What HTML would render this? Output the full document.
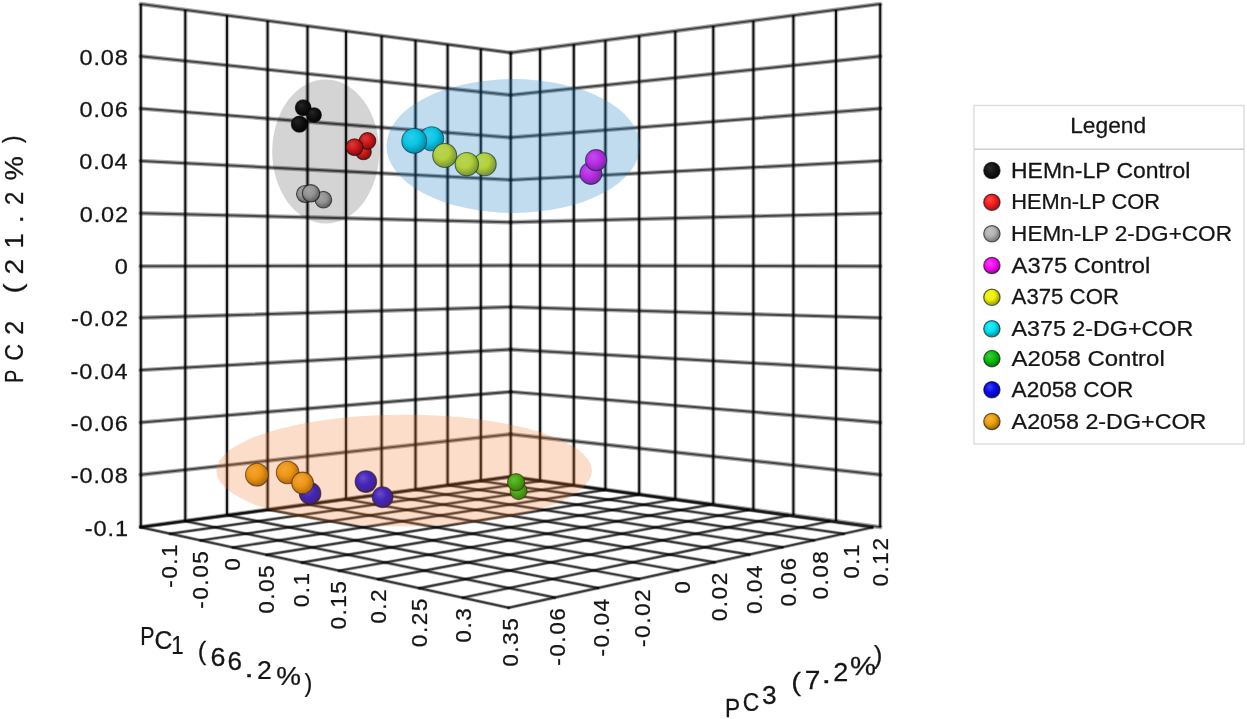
<!DOCTYPE html>
<html><head><meta charset="utf-8"><style>
html,body{margin:0;padding:0;background:#fff;}
svg{display:block;will-change:transform;}
text{font-family:"Liberation Sans",sans-serif;fill:#151515;stroke:#151515;stroke-width:0.25px;}
</style></head><body>
<svg width="1247" height="719" viewBox="0 0 1247 719">
<defs><radialGradient id="sk" cx="0.42" cy="0.4" r="0.62" fx="0.36" fy="0.32"><stop offset="0" stop-color="#2d2d2d"/><stop offset="0.5" stop-color="#161616"/><stop offset="1" stop-color="#050505"/></radialGradient><radialGradient id="sr" cx="0.42" cy="0.4" r="0.62" fx="0.36" fy="0.32"><stop offset="0" stop-color="#fb4e4e"/><stop offset="0.5" stop-color="#fa1c1c"/><stop offset="1" stop-color="#9b1111"/></radialGradient><radialGradient id="sg" cx="0.42" cy="0.4" r="0.62" fx="0.36" fy="0.32"><stop offset="0" stop-color="#c3c3c3"/><stop offset="0.5" stop-color="#b2b2b2"/><stop offset="1" stop-color="#6e6e6e"/></radialGradient><radialGradient id="sm" cx="0.42" cy="0.4" r="0.62" fx="0.36" fy="0.32"><stop offset="0" stop-color="#fb40f7"/><stop offset="0.5" stop-color="#fa0af5"/><stop offset="1" stop-color="#9b0698"/></radialGradient><radialGradient id="sy" cx="0.42" cy="0.4" r="0.62" fx="0.36" fy="0.32"><stop offset="0" stop-color="#f2f338"/><stop offset="0.5" stop-color="#eef000"/><stop offset="1" stop-color="#949500"/></radialGradient><radialGradient id="sc" cx="0.42" cy="0.4" r="0.62" fx="0.36" fy="0.32"><stop offset="0" stop-color="#38e8f6"/><stop offset="0.5" stop-color="#00e2f4"/><stop offset="1" stop-color="#008c97"/></radialGradient><radialGradient id="sG" cx="0.42" cy="0.4" r="0.62" fx="0.36" fy="0.32"><stop offset="0" stop-color="#40cc40"/><stop offset="0.5" stop-color="#0abe0a"/><stop offset="1" stop-color="#067606"/></radialGradient><radialGradient id="sb" cx="0.42" cy="0.4" r="0.62" fx="0.36" fy="0.32"><stop offset="0" stop-color="#4040f3"/><stop offset="0.5" stop-color="#0a0af0"/><stop offset="1" stop-color="#060695"/></radialGradient><radialGradient id="so" cx="0.42" cy="0.4" r="0.62" fx="0.36" fy="0.32"><stop offset="0" stop-color="#f2b541"/><stop offset="0.5" stop-color="#eea00c"/><stop offset="1" stop-color="#946307"/></radialGradient></defs>
<rect width="1247" height="719" fill="#fff"/>
<path d="M140.80,3.97L140.80,527.02 M510.70,52.70L510.70,476.60 M185.30,9.83L185.30,520.95 M540.10,48.82L540.10,480.62 M227.00,15.33L227.00,515.27 M573.80,44.37L573.80,485.23 M267.60,20.68L267.60,509.73 M605.40,40.19L605.40,489.55 M307.50,25.93L307.50,504.29 M639.20,35.73L639.20,494.17 M346.00,31.01L346.00,499.05 M675.30,30.96L675.30,499.10 M381.60,35.70L381.60,494.19 M713.30,25.95L713.30,504.30 M415.50,40.17L415.50,489.57 M753.40,20.65L753.40,509.78 M447.60,44.40L447.60,485.19 M793.40,15.37L793.40,515.25 M480.80,48.77L480.80,480.67 M836.00,9.74L836.00,521.07 M510.70,52.71L510.70,476.59 M880.20,3.90L880.20,527.11" stroke="rgba(0,0,0,0.25)" stroke-width="4.4" fill="none"/>
<path d="M140.80,3.97L140.80,527.02 M510.70,52.70L510.70,476.60 M185.30,9.83L185.30,520.95 M540.10,48.82L540.10,480.62 M227.00,15.33L227.00,515.27 M573.80,44.37L573.80,485.23 M267.60,20.68L267.60,509.73 M605.40,40.19L605.40,489.55 M307.50,25.93L307.50,504.29 M639.20,35.73L639.20,494.17 M346.00,31.01L346.00,499.05 M675.30,30.96L675.30,499.10 M381.60,35.70L381.60,494.19 M713.30,25.95L713.30,504.30 M415.50,40.17L415.50,489.57 M753.40,20.65L753.40,509.78 M447.60,44.40L447.60,485.19 M793.40,15.37L793.40,515.25 M480.80,48.77L480.80,480.67 M836.00,9.74L836.00,521.07 M510.70,52.71L510.70,476.59 M880.20,3.90L880.20,527.11" stroke="#151515" stroke-width="2.0" fill="none"/>
<g fill="none" stroke-linecap="round">
<path d="M140.73,527.03L510.66,476.60" stroke="rgba(0,0,0,0.32)" stroke-width="4.4"/>
<path d="M510.66,476.60L880.24,527.12" stroke="rgba(0,0,0,0.32)" stroke-width="4.4"/>
<path d="M140.73,474.72L510.66,434.21" stroke="rgba(0,0,0,0.32)" stroke-width="4.4"/>
<path d="M510.66,434.21L880.24,474.80" stroke="rgba(0,0,0,0.32)" stroke-width="4.4"/>
<path d="M140.73,422.42L510.66,391.82" stroke="rgba(0,0,0,0.32)" stroke-width="4.4"/>
<path d="M510.66,391.82L880.24,422.48" stroke="rgba(0,0,0,0.32)" stroke-width="4.4"/>
<path d="M140.73,370.11L510.66,349.43" stroke="rgba(0,0,0,0.32)" stroke-width="4.4"/>
<path d="M510.66,349.43L880.24,370.16" stroke="rgba(0,0,0,0.32)" stroke-width="4.4"/>
<path d="M140.72,317.80L510.66,307.04" stroke="rgba(0,0,0,0.32)" stroke-width="4.4"/>
<path d="M510.66,307.04L880.24,317.84" stroke="rgba(0,0,0,0.32)" stroke-width="4.4"/>
<path d="M140.72,266.30L510.66,265.46" stroke="rgba(0,0,0,0.32)" stroke-width="4.4"/>
<path d="M510.66,265.46L880.24,266.31" stroke="rgba(0,0,0,0.32)" stroke-width="4.4"/>
<path d="M140.72,213.19L510.66,222.27" stroke="rgba(0,0,0,0.32)" stroke-width="4.4"/>
<path d="M510.66,222.27L880.24,213.19" stroke="rgba(0,0,0,0.32)" stroke-width="4.4"/>
<path d="M140.72,160.88L510.66,179.88" stroke="rgba(0,0,0,0.32)" stroke-width="4.4"/>
<path d="M510.66,179.88L880.24,160.87" stroke="rgba(0,0,0,0.32)" stroke-width="4.4"/>
<path d="M140.71,108.57L510.66,137.49" stroke="rgba(0,0,0,0.32)" stroke-width="4.4"/>
<path d="M510.66,137.49L880.24,108.55" stroke="rgba(0,0,0,0.32)" stroke-width="4.4"/>
<path d="M140.71,56.26L510.66,95.10" stroke="rgba(0,0,0,0.32)" stroke-width="4.4"/>
<path d="M510.66,95.10L880.24,56.22" stroke="rgba(0,0,0,0.32)" stroke-width="4.4"/>
<path d="M140.71,3.96L510.66,52.71" stroke="rgba(0,0,0,0.32)" stroke-width="4.4"/>
<path d="M510.66,52.71L880.24,3.90" stroke="rgba(0,0,0,0.32)" stroke-width="4.4"/>
<path d="M140.63,527.29L508.63,607.72" stroke="rgba(0,0,0,0.3)" stroke-width="3.6"/>
<path d="M140.63,527.29L510.45,476.76" stroke="rgba(0,0,0,0.3)" stroke-width="3.6"/>
<path d="M185.37,521.18L554.70,597.55" stroke="rgba(0,0,0,0.3)" stroke-width="3.6"/>
<path d="M169.97,533.71L540.73,481.00" stroke="rgba(0,0,0,0.3)" stroke-width="3.6"/>
<path d="M228.07,515.34L598.11,587.96" stroke="rgba(0,0,0,0.3)" stroke-width="3.6"/>
<path d="M200.67,540.41L572.13,485.40" stroke="rgba(0,0,0,0.3)" stroke-width="3.6"/>
<path d="M268.87,509.77L639.10,578.91" stroke="rgba(0,0,0,0.3)" stroke-width="3.6"/>
<path d="M232.81,547.44L604.71,489.96" stroke="rgba(0,0,0,0.3)" stroke-width="3.6"/>
<path d="M307.89,504.44L677.84,570.35" stroke="rgba(0,0,0,0.3)" stroke-width="3.6"/>
<path d="M266.50,554.80L638.53,494.69" stroke="rgba(0,0,0,0.3)" stroke-width="3.6"/>
<path d="M345.24,499.33L714.54,562.24" stroke="rgba(0,0,0,0.3)" stroke-width="3.6"/>
<path d="M301.86,562.53L673.68,499.62" stroke="rgba(0,0,0,0.3)" stroke-width="3.6"/>
<path d="M381.04,494.44L749.33,554.56" stroke="rgba(0,0,0,0.3)" stroke-width="3.6"/>
<path d="M339.02,570.65L710.23,504.73" stroke="rgba(0,0,0,0.3)" stroke-width="3.6"/>
<path d="M415.38,489.75L782.37,547.26" stroke="rgba(0,0,0,0.3)" stroke-width="3.6"/>
<path d="M378.11,579.20L748.26,510.06" stroke="rgba(0,0,0,0.3)" stroke-width="3.6"/>
<path d="M448.34,485.25L813.79,540.32" stroke="rgba(0,0,0,0.3)" stroke-width="3.6"/>
<path d="M419.29,588.20L787.86,515.61" stroke="rgba(0,0,0,0.3)" stroke-width="3.6"/>
<path d="M480.00,480.92L843.70,533.72" stroke="rgba(0,0,0,0.3)" stroke-width="3.6"/>
<path d="M462.73,597.69L829.14,521.39" stroke="rgba(0,0,0,0.3)" stroke-width="3.6"/>
<path d="M510.45,476.76L872.21,527.42" stroke="rgba(0,0,0,0.3)" stroke-width="3.6"/>
<path d="M508.63,607.72L872.21,527.42" stroke="rgba(0,0,0,0.3)" stroke-width="3.6"/>
<path d="M140.73,527.03L510.66,476.60" stroke="rgba(0,0,0,0.58)" stroke-width="2.0"/>
<path d="M510.66,476.60L880.24,527.12" stroke="rgba(0,0,0,0.58)" stroke-width="2.0"/>
<path d="M140.73,474.72L510.66,434.21" stroke="rgba(0,0,0,0.58)" stroke-width="2.0"/>
<path d="M510.66,434.21L880.24,474.80" stroke="rgba(0,0,0,0.58)" stroke-width="2.0"/>
<path d="M140.73,422.42L510.66,391.82" stroke="rgba(0,0,0,0.58)" stroke-width="2.0"/>
<path d="M510.66,391.82L880.24,422.48" stroke="rgba(0,0,0,0.58)" stroke-width="2.0"/>
<path d="M140.73,370.11L510.66,349.43" stroke="rgba(0,0,0,0.58)" stroke-width="2.0"/>
<path d="M510.66,349.43L880.24,370.16" stroke="rgba(0,0,0,0.58)" stroke-width="2.0"/>
<path d="M140.72,317.80L510.66,307.04" stroke="rgba(0,0,0,0.58)" stroke-width="2.0"/>
<path d="M510.66,307.04L880.24,317.84" stroke="rgba(0,0,0,0.58)" stroke-width="2.0"/>
<path d="M140.72,266.30L510.66,265.46" stroke="rgba(0,0,0,0.58)" stroke-width="2.0"/>
<path d="M510.66,265.46L880.24,266.31" stroke="rgba(0,0,0,0.58)" stroke-width="2.0"/>
<path d="M140.72,213.19L510.66,222.27" stroke="rgba(0,0,0,0.58)" stroke-width="2.0"/>
<path d="M510.66,222.27L880.24,213.19" stroke="rgba(0,0,0,0.58)" stroke-width="2.0"/>
<path d="M140.72,160.88L510.66,179.88" stroke="rgba(0,0,0,0.58)" stroke-width="2.0"/>
<path d="M510.66,179.88L880.24,160.87" stroke="rgba(0,0,0,0.58)" stroke-width="2.0"/>
<path d="M140.71,108.57L510.66,137.49" stroke="rgba(0,0,0,0.58)" stroke-width="2.0"/>
<path d="M510.66,137.49L880.24,108.55" stroke="rgba(0,0,0,0.58)" stroke-width="2.0"/>
<path d="M140.71,56.26L510.66,95.10" stroke="rgba(0,0,0,0.58)" stroke-width="2.0"/>
<path d="M510.66,95.10L880.24,56.22" stroke="rgba(0,0,0,0.58)" stroke-width="2.0"/>
<path d="M140.71,3.96L510.66,52.71" stroke="rgba(0,0,0,0.58)" stroke-width="2.0"/>
<path d="M510.66,52.71L880.24,3.90" stroke="rgba(0,0,0,0.58)" stroke-width="2.0"/>
<path d="M140.63,527.29L508.63,607.72" stroke="rgba(0,0,0,0.68)" stroke-width="1.9"/>
<path d="M140.63,527.29L510.45,476.76" stroke="rgba(0,0,0,0.68)" stroke-width="1.9"/>
<path d="M185.37,521.18L554.70,597.55" stroke="rgba(0,0,0,0.68)" stroke-width="1.9"/>
<path d="M169.97,533.71L540.73,481.00" stroke="rgba(0,0,0,0.68)" stroke-width="1.9"/>
<path d="M228.07,515.34L598.11,587.96" stroke="rgba(0,0,0,0.68)" stroke-width="1.9"/>
<path d="M200.67,540.41L572.13,485.40" stroke="rgba(0,0,0,0.68)" stroke-width="1.9"/>
<path d="M268.87,509.77L639.10,578.91" stroke="rgba(0,0,0,0.68)" stroke-width="1.9"/>
<path d="M232.81,547.44L604.71,489.96" stroke="rgba(0,0,0,0.68)" stroke-width="1.9"/>
<path d="M307.89,504.44L677.84,570.35" stroke="rgba(0,0,0,0.68)" stroke-width="1.9"/>
<path d="M266.50,554.80L638.53,494.69" stroke="rgba(0,0,0,0.68)" stroke-width="1.9"/>
<path d="M345.24,499.33L714.54,562.24" stroke="rgba(0,0,0,0.68)" stroke-width="1.9"/>
<path d="M301.86,562.53L673.68,499.62" stroke="rgba(0,0,0,0.68)" stroke-width="1.9"/>
<path d="M381.04,494.44L749.33,554.56" stroke="rgba(0,0,0,0.68)" stroke-width="1.9"/>
<path d="M339.02,570.65L710.23,504.73" stroke="rgba(0,0,0,0.68)" stroke-width="1.9"/>
<path d="M415.38,489.75L782.37,547.26" stroke="rgba(0,0,0,0.68)" stroke-width="1.9"/>
<path d="M378.11,579.20L748.26,510.06" stroke="rgba(0,0,0,0.68)" stroke-width="1.9"/>
<path d="M448.34,485.25L813.79,540.32" stroke="rgba(0,0,0,0.68)" stroke-width="1.9"/>
<path d="M419.29,588.20L787.86,515.61" stroke="rgba(0,0,0,0.68)" stroke-width="1.9"/>
<path d="M480.00,480.92L843.70,533.72" stroke="rgba(0,0,0,0.68)" stroke-width="1.9"/>
<path d="M462.73,597.69L829.14,521.39" stroke="rgba(0,0,0,0.68)" stroke-width="1.9"/>
<path d="M510.45,476.76L872.21,527.42" stroke="rgba(0,0,0,0.68)" stroke-width="1.9"/>
<path d="M508.63,607.72L872.21,527.42" stroke="rgba(0,0,0,0.68)" stroke-width="1.9"/>
</g>
<circle cx="303.2" cy="107.8" r="7.9" fill="url(#sk)" stroke="rgba(0,0,0,0.6)" stroke-width="1.1"/>
<circle cx="314.1" cy="115.0" r="7.3" fill="url(#sk)" stroke="rgba(0,0,0,0.6)" stroke-width="1.1"/>
<circle cx="299.4" cy="124.2" r="8.1" fill="url(#sk)" stroke="rgba(0,0,0,0.6)" stroke-width="1.1"/>
<circle cx="363.5" cy="152.0" r="7.8" fill="url(#sr)" stroke="rgba(0,0,0,0.6)" stroke-width="1.1"/>
<circle cx="367.5" cy="140.9" r="8.3" fill="url(#sr)" stroke="rgba(0,0,0,0.6)" stroke-width="1.1"/>
<circle cx="354.5" cy="147.2" r="8.4" fill="url(#sr)" stroke="rgba(0,0,0,0.6)" stroke-width="1.1"/>
<circle cx="305.0" cy="194.0" r="8.5" fill="url(#sg)" stroke="rgba(0,0,0,0.6)" stroke-width="1.1"/>
<circle cx="323.4" cy="199.7" r="8.3" fill="url(#sg)" stroke="rgba(0,0,0,0.6)" stroke-width="1.1"/>
<circle cx="311.0" cy="193.3" r="8.7" fill="url(#sg)" stroke="rgba(0,0,0,0.6)" stroke-width="1.1"/>
<circle cx="431.7" cy="138.8" r="12.0" fill="url(#sc)" stroke="rgba(0,0,0,0.6)" stroke-width="1.1"/>
<circle cx="414.2" cy="140.9" r="12.4" fill="url(#sc)" stroke="rgba(0,0,0,0.6)" stroke-width="1.1"/>
<circle cx="484.7" cy="164.2" r="11.5" fill="url(#sy)" stroke="rgba(0,0,0,0.6)" stroke-width="1.1"/>
<circle cx="444.7" cy="155.5" r="12.0" fill="url(#sy)" stroke="rgba(0,0,0,0.6)" stroke-width="1.1"/>
<circle cx="466.8" cy="164.2" r="11.7" fill="url(#sy)" stroke="rgba(0,0,0,0.6)" stroke-width="1.1"/>
<circle cx="590.9" cy="173.4" r="11.0" fill="url(#sm)" stroke="rgba(0,0,0,0.6)" stroke-width="1.1"/>
<circle cx="596.1" cy="160.2" r="10.6" fill="url(#sm)" stroke="rgba(0,0,0,0.6)" stroke-width="1.1"/>
<circle cx="256.9" cy="474.7" r="11.4" fill="url(#so)" stroke="rgba(0,0,0,0.6)" stroke-width="1.1"/>
<circle cx="287.6" cy="472.5" r="11.3" fill="url(#so)" stroke="rgba(0,0,0,0.6)" stroke-width="1.1"/>
<circle cx="310.1" cy="493.4" r="10.8" fill="url(#sb)" stroke="rgba(0,0,0,0.6)" stroke-width="1.1"/>
<circle cx="302.6" cy="483.0" r="10.9" fill="url(#so)" stroke="rgba(0,0,0,0.6)" stroke-width="1.1"/>
<circle cx="365.9" cy="481.6" r="10.8" fill="url(#sb)" stroke="rgba(0,0,0,0.6)" stroke-width="1.1"/>
<circle cx="382.6" cy="497.2" r="10.4" fill="url(#sb)" stroke="rgba(0,0,0,0.6)" stroke-width="1.1"/>
<circle cx="518.6" cy="491.1" r="8.5" fill="url(#sG)" stroke="rgba(0,0,0,0.6)" stroke-width="1.1"/>
<circle cx="516.1" cy="482.2" r="8.6" fill="url(#sG)" stroke="rgba(0,0,0,0.6)" stroke-width="1.1"/>
<ellipse cx="325.7" cy="151.5" rx="53.5" ry="72" fill="rgba(0,0,0,0.17)"/>
<ellipse cx="513.2" cy="146" rx="126.7" ry="66.9" fill="rgba(30,130,194,0.28)"/>
<ellipse cx="404.2" cy="470.7" rx="187.8" ry="55.9" fill="rgba(240,120,40,0.25)"/>
<text font-size="21.6" letter-spacing="0.826" transform="translate(79.45,64.86) scale(1.0900,1)">0.08</text>
<text font-size="21.6" letter-spacing="0.826" transform="translate(79.45,117.17) scale(1.0900,1)">0.06</text>
<text font-size="21.6" letter-spacing="0.826" transform="translate(79.21,169.48) scale(1.0900,1)">0.04</text>
<text font-size="21.6" letter-spacing="0.826" transform="translate(79.68,221.79) scale(1.0900,1)">0.02</text>
<text font-size="21.6" letter-spacing="0.826" transform="translate(114.76,274.10) scale(1.0900,1)">0</text>
<text font-size="21.6" letter-spacing="0.826" transform="translate(70.90,326.40) scale(1.0900,1)">-0.02</text>
<text font-size="21.6" letter-spacing="0.826" transform="translate(70.43,378.71) scale(1.0900,1)">-0.04</text>
<text font-size="21.6" letter-spacing="0.826" transform="translate(70.66,431.02) scale(1.0900,1)">-0.06</text>
<text font-size="21.6" letter-spacing="0.826" transform="translate(70.66,483.32) scale(1.0900,1)">-0.08</text>
<text font-size="21.6" letter-spacing="0.826" transform="translate(84.86,535.63) scale(1.0900,1)">-0.1</text>
<text font-size="21.2" letter-spacing="1.406" transform="translate(177.48,587.87) rotate(-90) scale(1.0670,1)">-0.1</text>
<text font-size="21.2" letter-spacing="1.406" transform="translate(207.94,608.75) rotate(-90) scale(1.0670,1)">-0.05</text>
<text font-size="21.2" letter-spacing="1.406" transform="translate(239.92,570.76) rotate(-90) scale(1.0670,1)">0</text>
<text font-size="21.2" letter-spacing="1.406" transform="translate(273.54,613.87) rotate(-90) scale(1.0670,1)">0.05</text>
<text font-size="21.2" letter-spacing="1.406" transform="translate(308.92,607.37) rotate(-90) scale(1.0670,1)">0.1</text>
<text font-size="21.2" letter-spacing="1.406" transform="translate(346.22,629.61) rotate(-90) scale(1.0670,1)">0.15</text>
<text font-size="21.2" letter-spacing="1.406" transform="translate(385.58,623.85) rotate(-90) scale(1.0670,1)">0.2</text>
<text font-size="21.2" letter-spacing="1.406" transform="translate(427.18,647.14) rotate(-90) scale(1.0670,1)">0.25</text>
<text font-size="21.2" letter-spacing="1.406" transform="translate(471.22,642.63) rotate(-90) scale(1.0670,1)">0.3</text>
<text font-size="21.2" letter-spacing="1.406" transform="translate(517.93,666.79) rotate(-90) scale(1.0670,1)">0.35</text>
<text font-size="21.2" letter-spacing="1.406" transform="translate(564.68,665.75) rotate(-90) scale(1.0670,1)">-0.06</text>
<text font-size="21.2" letter-spacing="1.406" transform="translate(608.75,656.42) rotate(-90) scale(1.0670,1)">-0.04</text>
<text font-size="21.2" letter-spacing="1.406" transform="translate(650.39,646.95) rotate(-90) scale(1.0670,1)">-0.02</text>
<text font-size="21.2" letter-spacing="1.406" transform="translate(689.77,593.74) rotate(-90) scale(1.0670,1)">0</text>
<text font-size="21.2" letter-spacing="1.406" transform="translate(727.08,621.26) rotate(-90) scale(1.0670,1)">0.02</text>
<text font-size="21.2" letter-spacing="1.406" transform="translate(762.48,614.04) rotate(-90) scale(1.0670,1)">0.04</text>
<text font-size="21.2" letter-spacing="1.406" transform="translate(796.12,606.53) rotate(-90) scale(1.0670,1)">0.06</text>
<text font-size="21.2" letter-spacing="1.406" transform="translate(828.11,599.60) rotate(-90) scale(1.0670,1)">0.08</text>
<text font-size="21.2" letter-spacing="1.406" transform="translate(858.58,578.83) rotate(-90) scale(1.0670,1)">0.1</text>
<text font-size="21.2" letter-spacing="1.406" transform="translate(887.64,586.48) rotate(-90) scale(1.0670,1)">0.12</text>
<text font-size="26" transform="translate(140.30,644.60) scale(0.8196,1)">P</text>
<text font-size="26" transform="translate(154.46,649.20) scale(0.9509,1)">C</text>
<text font-size="26" transform="translate(171.33,653.70) scale(0.8576,1)">1</text>
<text font-size="26" transform="translate(197.66,659.75) scale(0.9869,1)">(</text>
<text font-size="26" transform="translate(210.56,666.30) scale(1.0339,1)">6</text>
<text font-size="26" transform="translate(227.60,670.00) scale(1.0008,1)">6</text>
<text font-size="26" transform="translate(244.27,677.00) scale(1.3360,1)">.</text>
<text font-size="26" transform="translate(257.07,679.30) scale(1.0228,1)">2</text>
<text font-size="26" transform="translate(276.33,685.30) scale(1.0694,1)">%</text>
<text font-size="26" transform="translate(304.38,691.55) scale(0.8999,1)">)</text>
<text font-size="26" transform="translate(725.09,716.60) scale(0.8699,1)">P</text>
<text font-size="26" transform="translate(742.76,710.50) scale(0.8783,1)">C</text>
<text font-size="26" transform="translate(761.95,704.40) scale(1.0121,1)">3</text>
<text font-size="26" transform="translate(791.33,691.45) scale(1.1321,1)">(</text>
<text font-size="26" transform="translate(804.79,688.90) scale(1.0820,1)">7</text>
<text font-size="26" transform="translate(821.57,683.00) scale(1.3360,1)">.</text>
<text font-size="26" transform="translate(833.35,681.20) scale(1.0397,1)">2</text>
<text font-size="26" transform="translate(849.98,674.90) scale(1.1257,1)">%</text>
<text font-size="26" transform="translate(873.87,664.25) scale(1.0015,1)">)</text>
<text font-size="26" transform="translate(22.90,382.86) rotate(-90) scale(0.7500,1)">P</text>
<text font-size="26" transform="translate(22.90,360.77) rotate(-90) scale(0.8964,1)">C</text>
<text font-size="26" transform="translate(22.90,334.75) rotate(-90) scale(0.9637,1)">2</text>
<text font-size="26" transform="translate(21.75,293.41) rotate(-90) scale(1.1611,1)">(</text>
<text font-size="26" transform="translate(22.90,274.41) rotate(-90) scale(1.0820,1)">2</text>
<text font-size="26" transform="translate(22.90,248.53) rotate(-90) scale(1.0433,1)">1</text>
<text font-size="26" transform="translate(22.50,223.06) rotate(-90) scale(1.0526,1)">.</text>
<text font-size="26" transform="translate(22.90,205.10) rotate(-90) scale(0.9214,1)">2</text>
<text font-size="26" transform="translate(22.50,180.56) rotate(-90) scale(1.0553,1)">%</text>
<text font-size="26" transform="translate(21.35,143.11) rotate(-90) scale(0.8563,1)">)</text>
<rect x="974" y="105.5" width="270" height="338.5" fill="#fff" stroke="#ddd" stroke-width="1.4"/>
<line x1="974" y1="149.2" x2="1244" y2="149.2" stroke="#ccc" stroke-width="1.4"/>
<circle cx="991.9" cy="170.5" r="8.2" fill="url(#sk)" stroke="rgba(0,0,0,0.6)" stroke-width="1.2"/>
<circle cx="991.9" cy="202.3" r="8.2" fill="url(#sr)" stroke="rgba(0,0,0,0.6)" stroke-width="1.2"/>
<circle cx="991.9" cy="233.8" r="8.2" fill="url(#sg)" stroke="rgba(0,0,0,0.6)" stroke-width="1.2"/>
<circle cx="991.9" cy="265.5" r="8.2" fill="url(#sm)" stroke="rgba(0,0,0,0.6)" stroke-width="1.2"/>
<circle cx="991.9" cy="297.3" r="8.2" fill="url(#sy)" stroke="rgba(0,0,0,0.6)" stroke-width="1.2"/>
<circle cx="991.9" cy="328.8" r="8.2" fill="url(#sc)" stroke="rgba(0,0,0,0.6)" stroke-width="1.2"/>
<circle cx="991.9" cy="358.6" r="8.2" fill="url(#sG)" stroke="rgba(0,0,0,0.6)" stroke-width="1.2"/>
<circle cx="991.9" cy="389.8" r="8.2" fill="url(#sb)" stroke="rgba(0,0,0,0.6)" stroke-width="1.2"/>
<circle cx="991.9" cy="421.5" r="8.2" fill="url(#so)" stroke="rgba(0,0,0,0.6)" stroke-width="1.2"/>
<text font-size="21.6" transform="translate(1070.18,133.30) scale(1.0536,1)">Legend</text>
<text font-size="21.6" transform="translate(1011.07,177.60) scale(1.0617,1)">HEMn-LP Control</text>
<text font-size="21.6" transform="translate(1011.15,209.40) scale(1.0110,1)">HEMn-LP COR</text>
<text font-size="21.6" transform="translate(1011.09,240.90) scale(1.0452,1)">HEMn-LP 2-DG+COR</text>
<text font-size="21.6" transform="translate(1011.60,272.60) scale(1.1008,1)">A375 Control</text>
<text font-size="21.6" transform="translate(1011.60,304.40) scale(1.0284,1)">A375 COR</text>
<text font-size="21.6" transform="translate(1011.60,335.90) scale(1.0769,1)">A375 2-DG+COR</text>
<text font-size="21.6" transform="translate(1011.60,365.70) scale(1.1096,1)">A2058 Control</text>
<text font-size="21.6" transform="translate(1011.60,396.90) scale(1.0463,1)">A2058 COR</text>
<text font-size="21.6" transform="translate(1011.60,428.60) scale(1.0789,1)">A2058 2-DG+COR</text>
</svg>
</body></html>
